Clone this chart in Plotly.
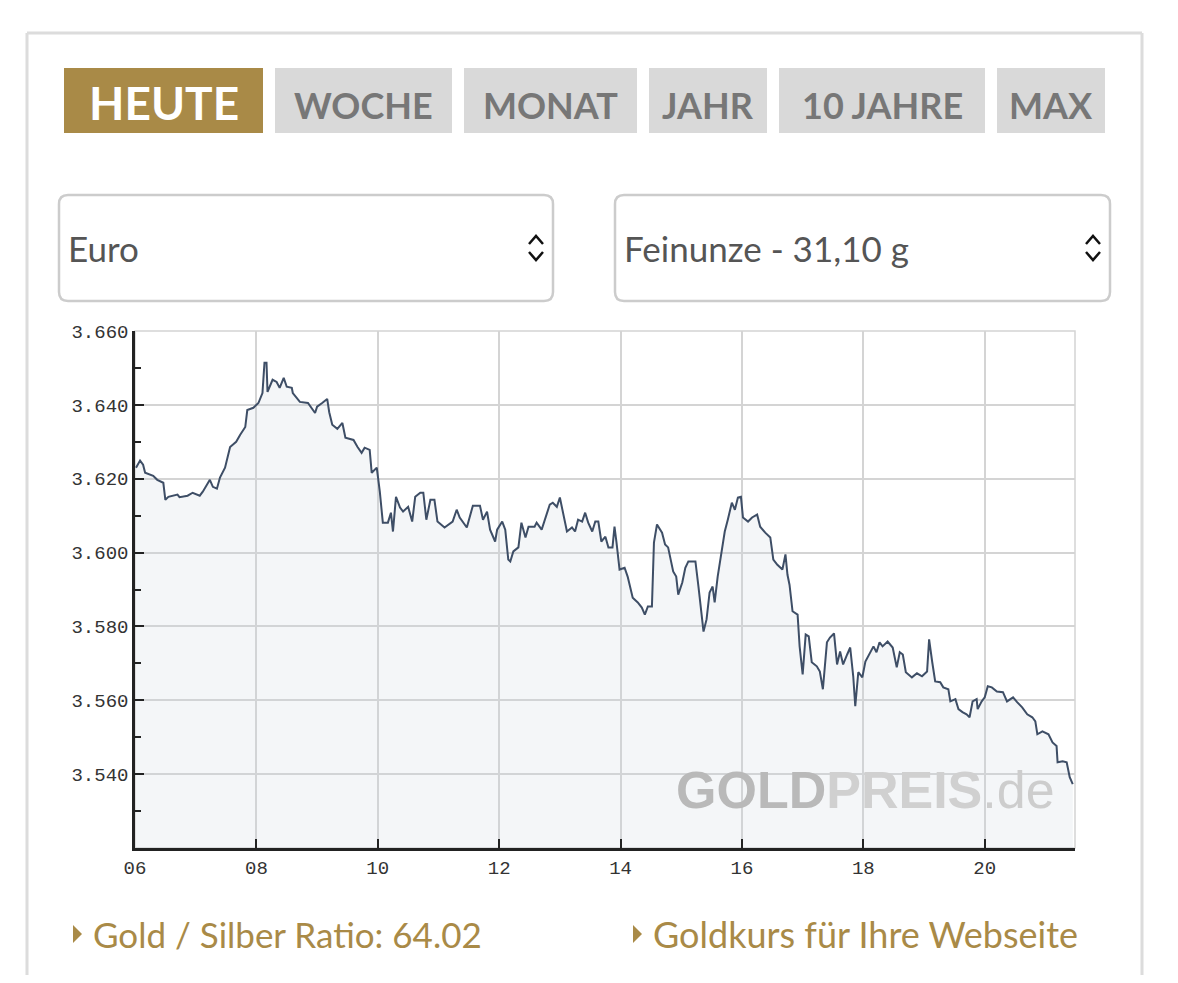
import plotly.graph_objects as go

# --- data (EUR per troy ounce, intraday) ---
times = ["06:01", "06:05", "06:08", "06:10", "06:18", "06:22", "06:28", "06:30", "06:33", "06:42",
         "06:44", "06:52", "06:57", "07:04", "07:07", "07:12", "07:14", "07:17", "07:21", "07:24",
         "07:29", "07:34", "07:40", "07:44", "07:49", "07:51", "07:57", "08:02", "08:06", "08:08",
         "08:10", "08:11", "08:16", "08:20", "08:23", "08:27", "08:30", "08:35", "08:36", "08:43",
         "08:51", "08:58", "09:00", "09:05", "09:10", "09:12", "09:15", "09:20", "09:25", "09:28",
         "09:36", "09:40", "09:44", "09:47", "09:52", "09:54", "09:59", "10:02", "10:05", "10:10",
         "10:13", "10:15", "10:18", "10:22", "10:25", "10:30", "10:34", "10:37", "10:42", "10:45",
         "10:48", "10:52", "10:56", "10:59", "11:06", "11:14", "11:18", "11:21", "11:28", "11:34",
         "11:41", "11:44", "11:48", "11:51", "11:56", "11:58", "12:03", "12:06", "12:09", "12:11",
         "12:14", "12:19", "12:22", "12:26", "12:29", "12:35", "12:37", "12:42", "12:47", "12:50",
         "12:53", "12:57", "13:00", "13:03", "13:07", "13:12", "13:15", "13:18", "13:22", "13:25",
         "13:28", "13:32", "13:35", "13:38", "13:41", "13:45", "13:48", "13:52", "13:54", "13:56",
         "13:59", "14:04", "14:07", "14:12", "14:17", "14:21", "14:24", "14:27", "14:31", "14:33",
         "14:36", "14:41", "14:44", "14:47", "14:52", "14:55", "14:57", "15:01", "15:04", "15:07",
         "15:14", "15:17", "15:20", "15:22", "15:25", "15:28", "15:31", "15:33", "15:36", "15:40",
         "15:43", "15:46", "15:50", "15:53", "15:56", "15:59", "16:01", "16:06", "16:10", "16:15",
         "16:18", "16:23", "16:28", "16:31", "16:35", "16:40", "16:43", "16:45", "16:47", "16:50",
         "16:55", "16:57", "17:00", "17:03", "17:06", "17:09", "17:14", "17:17", "17:20", "17:24",
         "17:27", "17:31", "17:34", "17:37", "17:40", "17:44", "17:47", "17:50", "17:52", "17:55",
         "17:59", "18:02", "18:07", "18:10", "18:13", "18:16", "18:19", "18:24", "18:29", "18:33",
         "18:36", "18:39", "18:42", "18:48", "18:53", "18:58", "19:03", "19:05", "19:08", "19:11",
         "19:16", "19:19", "19:24", "19:26", "19:31", "19:34", "19:38", "19:42", "19:45", "19:48",
         "19:52", "19:53", "19:57", "20:00", "20:03", "20:07", "20:12", "20:18", "20:22", "20:28",
         "20:32", "20:37", "20:42", "20:47", "20:50", "20:52", "20:57", "21:03", "21:07", "21:11",
         "21:12", "21:17", "21:21", "21:24", "21:27"]

prices = [3623.0, 3624.9, 3623.8, 3621.6, 3620.8, 3619.7, 3618.9, 3614.3, 3615.1, 3615.7,
          3615.0, 3615.4, 3616.2, 3615.4, 3616.5, 3618.9, 3619.7, 3617.8, 3617.3, 3620.3,
          3623.0, 3628.6, 3630.0, 3631.9, 3634.0, 3638.6, 3639.2, 3640.5, 3643.2, 3651.4,
          3651.4, 3643.5, 3646.8, 3646.2, 3644.6, 3647.3, 3644.9, 3644.6, 3643.2, 3640.8,
          3640.5, 3637.8, 3639.5, 3640.5, 3641.6, 3638.0, 3634.6, 3633.5, 3635.1, 3631.1,
          3630.5, 3628.6, 3627.0, 3628.4, 3627.8, 3621.6, 3623.0, 3616.5, 3608.1, 3608.1,
          3610.8, 3605.7, 3615.1, 3612.2, 3611.1, 3612.4, 3608.4, 3615.1, 3616.2, 3616.2,
          3608.9, 3614.3, 3614.3, 3608.4, 3606.8, 3608.4, 3611.6, 3609.5, 3606.8, 3612.7,
          3612.7, 3608.9, 3611.1, 3606.2, 3603.0, 3606.2, 3608.4, 3606.2, 3598.1, 3597.6,
          3600.3, 3601.4, 3608.1, 3604.1, 3607.0, 3607.0, 3608.1, 3606.2, 3610.3, 3613.0,
          3613.5, 3612.4, 3614.9, 3610.8, 3605.7, 3606.8, 3605.7, 3608.9, 3608.4, 3610.8,
          3608.1, 3605.7, 3608.4, 3608.4, 3603.0, 3604.3, 3601.4, 3601.4, 3607.0, 3602.7,
          3595.4, 3595.9, 3593.5, 3587.8, 3586.5, 3585.1, 3583.2, 3585.4, 3585.4, 3602.7,
          3607.6, 3605.4, 3602.2, 3601.4, 3594.9, 3593.5, 3588.6, 3591.9, 3595.9, 3597.6,
          3597.6, 3590.8, 3583.8, 3578.6, 3581.9, 3589.2, 3590.8, 3586.5, 3593.5, 3600.0,
          3605.7, 3608.9, 3613.5, 3611.6, 3614.9, 3615.1, 3609.5, 3608.4, 3609.5, 3610.3,
          3607.0, 3605.4, 3604.1, 3598.1, 3596.7, 3595.4, 3599.5, 3594.0, 3591.3, 3584.1,
          3583.2, 3574.6, 3567.0, 3577.8, 3577.3, 3570.3, 3569.2, 3567.8, 3563.0, 3575.7,
          3577.0, 3578.1, 3569.7, 3573.2, 3569.7, 3572.4, 3574.3, 3566.5, 3558.4, 3567.6,
          3566.2, 3570.5, 3573.0, 3574.6, 3573.0, 3575.7, 3574.6, 3575.9, 3574.3, 3568.9,
          3573.0, 3572.4, 3567.6, 3566.2, 3567.3, 3566.5, 3567.8, 3576.5, 3570.5, 3565.1,
          3564.9, 3563.5, 3563.0, 3559.7, 3560.3, 3557.6, 3556.8, 3556.2, 3555.4, 3559.7,
          3560.3, 3557.6, 3559.7, 3560.8, 3563.8, 3563.5, 3562.4, 3562.2, 3559.7, 3560.8,
          3559.5, 3558.1, 3556.2, 3555.4, 3554.3, 3550.8, 3551.6, 3550.8, 3548.6, 3547.6,
          3543.2, 3543.5, 3543.2, 3539.2, 3537.3]

x_ticks = [6, 8, 10, 12, 14, 16, 18, 20]
x_labels = ["06", "08", "10", "12", "14", "16", "18", "20"]
y_ticks = [3540, 3560, 3580, 3600, 3620, 3640, 3660]

tabs = ["HEUTE", "WOCHE", "MONAT", "JAHR", "10 JAHRE", "MAX"]
currency = "Euro"
unit = "Feinunze - 31,10 g"
ratio = 64.02
links = ["Gold / Silber Ratio: %.2f" % ratio, "Goldkurs für Ihre Webseite"]

GOLD = "#a98a47"
LINE = "#3e4e66"

hours = [int(t[:2]) + int(t[3:]) / 60 for t in times]


# screen pixel -> paper coords (plot area is x 135..1075, y 331..848)
def sx(v):
    return (v - 135) / 940


def sy(v):
    return (848 - v) / 517


def rrect(x0, y0, x1, y1, r):
    rx, ry = r / 940, r / 517
    a, b, c, d = sx(x0), sx(x1), sy(y0), sy(y1)
    return (f"M {a + rx},{c} L {b - rx},{c} Q {b},{c} {b},{c - ry} "
            f"L {b},{d + ry} Q {b},{d} {b - rx},{d} L {a + rx},{d} "
            f"Q {a},{d} {a},{d + ry} L {a},{c - ry} Q {a},{c} {a + rx},{c} Z")


fig = go.Figure()
fig.add_trace(go.Scatter(x=hours, y=prices, mode="lines",
                         line=dict(color=LINE, width=2),
                         fill="tozeroy", fillcolor="rgba(205,212,225,0.22)",
                         hoverinfo="skip"))

shapes = []
annos = []

# card border
for x0, y0, x1, y1 in [(27, 33, 27, 990), (27, 33, 1142, 33), (1142, 33, 1142, 990)]:
    shapes.append(dict(type="line", xref="paper", yref="paper",
                       x0=sx(x0), y0=sy(y0), x1=sx(x1), y1=sy(y1),
                       line=dict(color="#dcdcdc", width=3)))

# tab buttons
tab_pos = [(64, 263), (275, 452), (464, 637), (649, 767), (779, 985), (997, 1105)]
for i, (name, (a, b)) in enumerate(zip(tabs, tab_pos)):
    active = i == 0
    shapes.append(dict(type="rect", xref="paper", yref="paper",
                       x0=sx(a), x1=sx(b), y0=sy(133), y1=sy(68),
                       fillcolor=GOLD if active else "#d9d9d9", line=dict(width=0)))
    annos.append(dict(xref="paper", yref="paper", x=sx((a + b) / 2), y=sy(103 if active else 105),
                      text="<b>%s</b>" % name, showarrow=False, xanchor="center", yanchor="middle",
                      font=dict(family="Lato", size=46 if active else 36,
                                color="white" if active else "#777777")))

# dropdowns
for (a, b), label in [((59, 553), currency), ((615, 1110), unit)]:
    shapes.append(dict(type="path", xref="paper", yref="paper", path=rrect(a, 195, b, 301, 9),
                       fillcolor="white", line=dict(color="#cccccc", width=2.5)))
    annos.append(dict(xref="paper", yref="paper", x=sx(a + 7), y=sy(248), text=label,
                      showarrow=False, xanchor="left", yanchor="middle",
                      font=dict(family="Lato", size=35, color="#555555")))
    cx = b - 17
    for y_tip, y_base in [(236, 244), (260, 252)]:
        shapes.append(dict(type="path", xref="paper", yref="paper",
                           path=f"M {sx(cx - 7)},{sy(y_base)} L {sx(cx)},{sy(y_tip)} L {sx(cx + 7)},{sy(y_base)}",
                           line=dict(color="#111111", width=2.5)))

# plot frame (light top/right)
shapes.append(dict(type="rect", xref="paper", yref="paper", x0=0, x1=1, y0=0, y1=1,
                   line=dict(color="#d4d4d4", width=1.5), layer="below"))

# links under chart
for x_tri, label, fs in [(73, links[0], 35), (633, links[1], 36)]:
    shapes.append(dict(type="path", xref="paper", yref="paper",
                       path=f"M {sx(x_tri)},{sy(925)} L {sx(x_tri + 9)},{sy(934)} L {sx(x_tri)},{sy(943)} Z",
                       fillcolor=GOLD, line=dict(width=0)))
    annos.append(dict(xref="paper", yref="paper", x=sx(x_tri + 18), y=sy(934), text=label,
                      showarrow=False, xanchor="left", yanchor="middle",
                      font=dict(family="Lato", size=fs, color=GOLD)))

# watermark
annos.append(dict(xref="paper", yref="paper", x=sx(865), y=sy(790),
                  text="<b><span style='color:#b9b9b9'>GOLD</span>"
                       "<span style='color:#d0d0d0'>PREIS</span></b>"
                       "<span style='color:#cdcdcd'>.de</span>",
                  showarrow=False, xanchor="center", yanchor="middle",
                  font=dict(family="Liberation Sans", size=52, color="#cdcdcd")))

fig.update_layout(
    width=1162, height=967,
    margin=dict(l=127, r=95, t=323, b=127),
    paper_bgcolor="white", plot_bgcolor="white",
    separators=",.",
    showlegend=False,
    shapes=shapes, annotations=annos,
    xaxis=dict(range=[6, 21.487], tickvals=x_ticks, ticktext=x_labels,
               showgrid=True, gridcolor="#d4d4d4", gridwidth=1.5,
               ticks="inside", ticklen=9, tickwidth=2, tickcolor="#222222",
               showline=True, linecolor="#222222", linewidth=2.5,
               zeroline=False, fixedrange=True, ticklabelstandoff=0,
               tickfont=dict(family="Liberation Mono", size=19, color="#333333")),
    yaxis=dict(range=[3520, 3660], tickvals=y_ticks, tickformat=",d",
               showgrid=True, gridcolor="#d4d4d4", gridwidth=1.5,
               ticks="inside", ticklen=9, tickwidth=2, tickcolor="#222222",
               minor=dict(ticks="inside", ticklen=6, tickwidth=2, tickcolor="#222222",
                          dtick=10, tick0=3530, showgrid=False),
               showline=True, linecolor="#222222", linewidth=2.5,
               zeroline=False, fixedrange=True,
               tickfont=dict(family="Liberation Mono", size=19, color="#333333")),
)

fig.write_html("out.html", config={"displayModeBar": False})
